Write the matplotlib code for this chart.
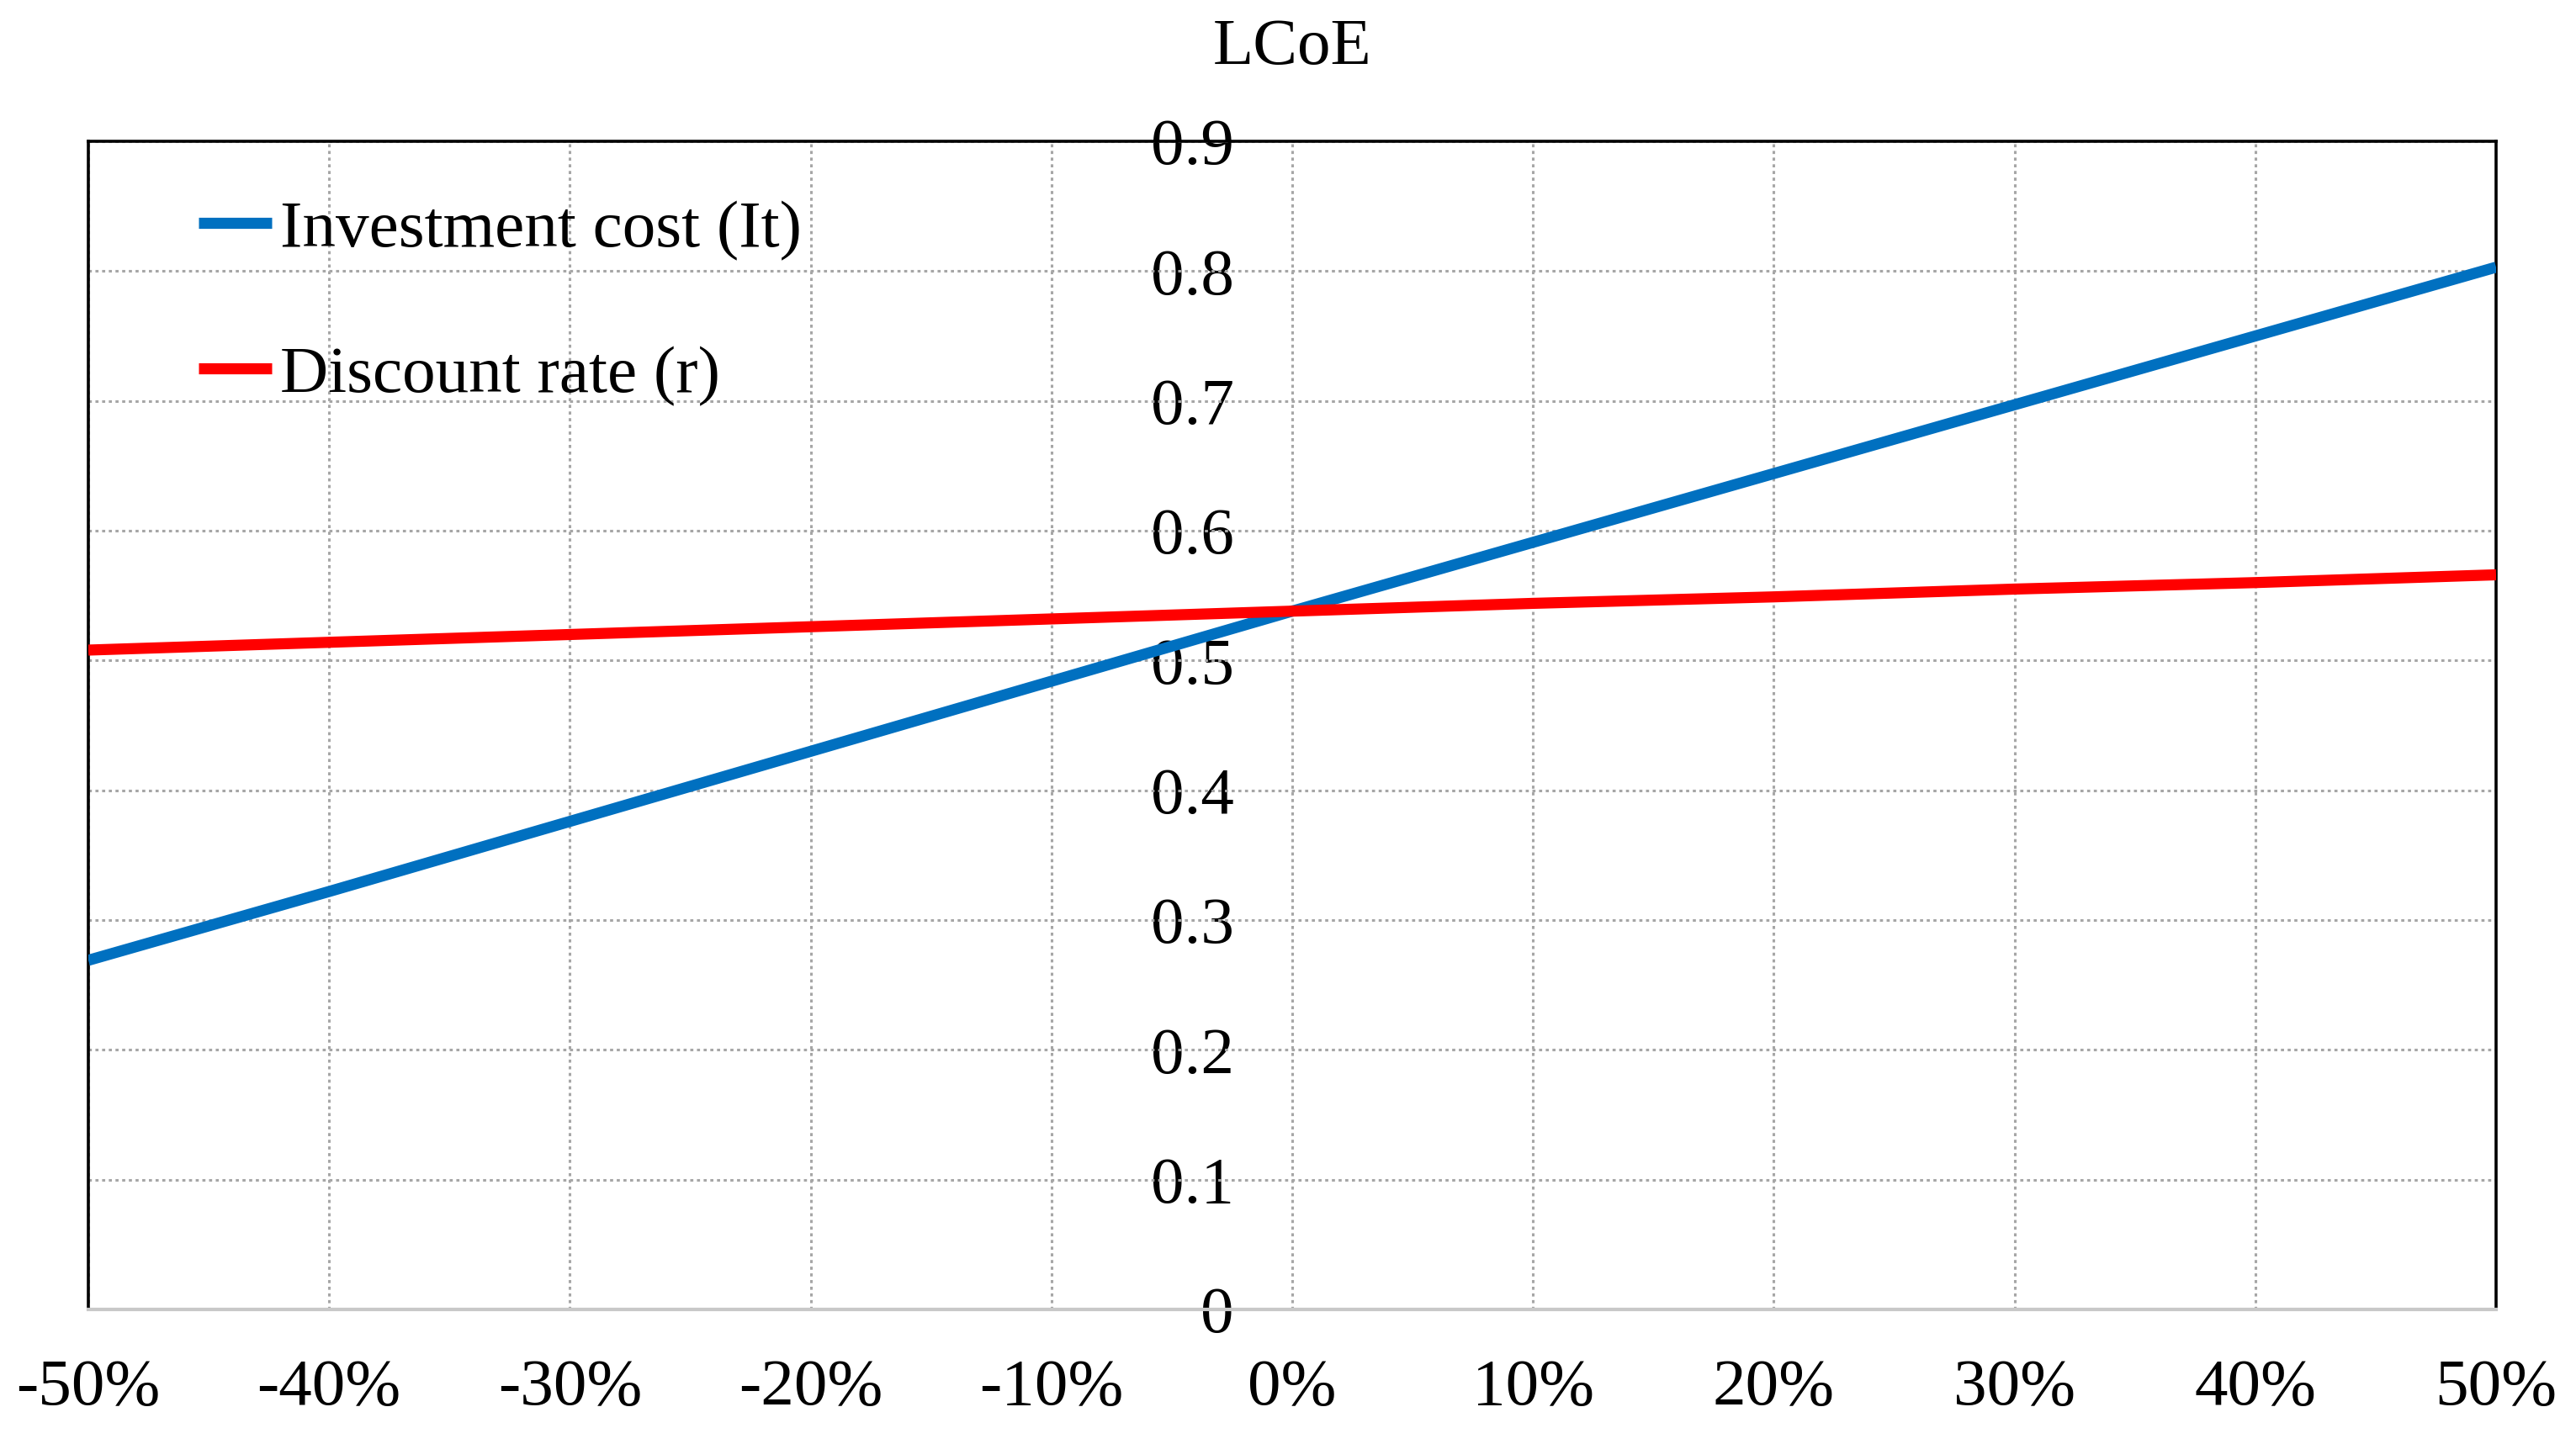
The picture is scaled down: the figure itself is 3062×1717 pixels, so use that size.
import matplotlib
matplotlib.use("Agg")
import matplotlib.pyplot as plt
from matplotlib.ticker import FixedLocator, FuncFormatter

variation = [-50, -40, -30, -20, -10, 0, 10, 20, 30, 40, 50]
investment_cost = [0.269, 0.322, 0.376, 0.430, 0.484, 0.538, 0.591, 0.644, 0.697, 0.750, 0.803]
discount_rate = [0.508, 0.514, 0.520, 0.526, 0.532, 0.538, 0.544, 0.549, 0.555, 0.560, 0.566]
x_ticks = [-50, -40, -30, -20, -10, 0, 10, 20, 30, 40, 50]
y_ticks = [0, 0.1, 0.2, 0.3, 0.4, 0.5, 0.6, 0.7, 0.8, 0.9]

plt.rcParams['font.family'] = ['Liberation Serif', 'DejaVu Serif']
FS = 57

fig = plt.figure(figsize=(30.62, 17.17), dpi=100)
ax = fig.add_axes([105/3062, 1 - 1557/1717, (2967-105)/3062, (1557-168)/1717])

ax.plot(variation, investment_cost, color='#0070C0', lw=9.5, solid_capstyle='butt',
        label='Investment cost (It)', zorder=3)
ax.plot(variation, discount_rate, color='#FF0000', lw=9.5, solid_capstyle='butt',
        label='Discount rate (r)', zorder=3)

ax.set_xlim(-50, 50)
ax.set_ylim(0, 0.9)

ax.xaxis.set_major_locator(FixedLocator(x_ticks))
ax.xaxis.set_major_formatter(FuncFormatter(lambda v, p: f"{int(round(v))}%"))
ax.tick_params(axis='x', length=0, pad=42, labelsize=FS)
ax.yaxis.set_major_locator(FixedLocator(y_ticks))
ax.tick_params(axis='y', length=0, labelleft=False)

ax.grid(True, color='#a6a6a6', lw=2.2, linestyle=(0, (1.2, 1.4)), zorder=1)
ax.set_axisbelow(True)

for s in ['left', 'top', 'right']:
    ax.spines[s].set_color('black')
    ax.spines[s].set_linewidth(2.6)
ax.spines['bottom'].set_color('#c8c8c8')
ax.spines['bottom'].set_linewidth(3.0)

sec = ax.secondary_yaxis(0.5)
sec.yaxis.set_major_locator(FixedLocator(y_ticks))
sec.yaxis.set_major_formatter(FuncFormatter(lambda v, p: f"{v:g}"))
sec.yaxis.set_ticks_position('left')
sec.tick_params(axis='y', length=0, pad=50, labelsize=FS,
                left=True, labelleft=True, right=False, labelright=False)
for s in ['left', 'right', 'top', 'bottom']:
    sec.spines[s].set_visible(False)

ax.annotate('LCoE', xy=(0, 1), xycoords=ax.get_xaxis_transform(),
            xytext=(0, 80), textcoords='offset points',
            ha='center', va='center', fontsize=FS)

leg = ax.legend(loc='upper left', bbox_to_anchor=(0.0458, 0.95), frameon=False,
                fontsize=FS, handlelength=1.1, handletextpad=0.12, labelspacing=1.27,
                borderpad=0, borderaxespad=0)

fig.savefig('out.png', dpi=100)
